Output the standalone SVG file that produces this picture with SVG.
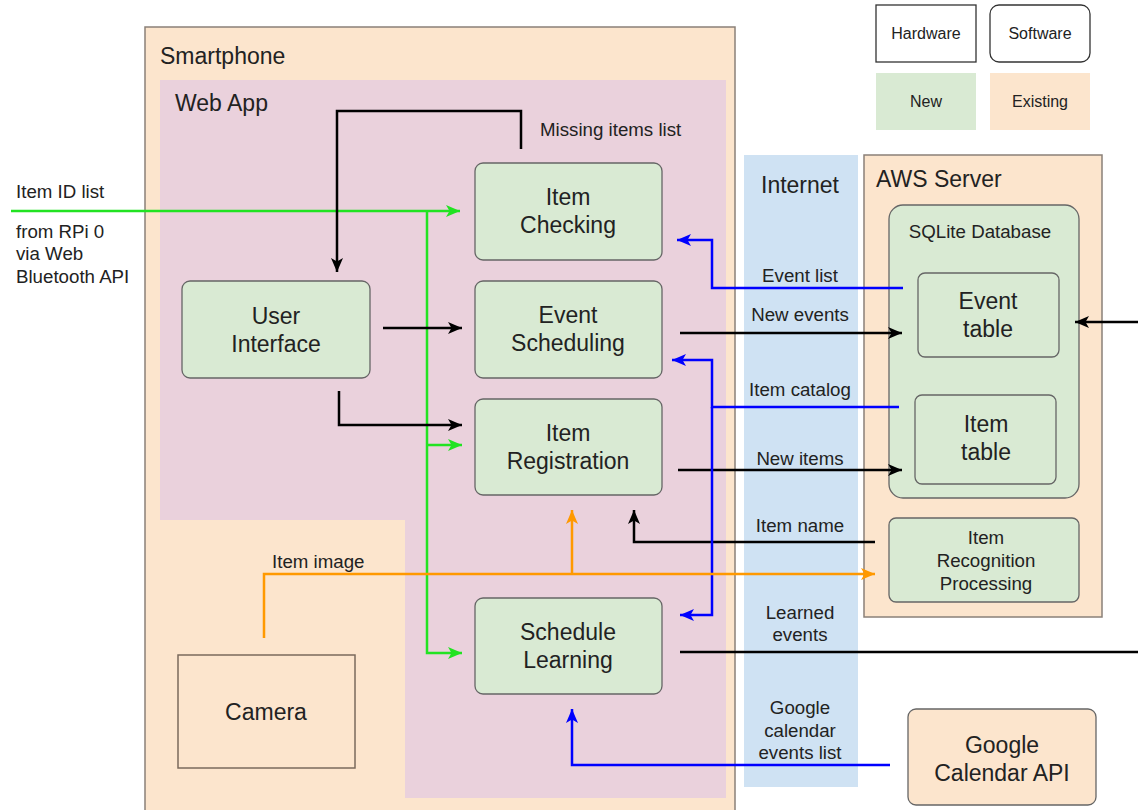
<svg xmlns="http://www.w3.org/2000/svg" width="1138" height="810" viewBox="0 0 1138 810">
  <style>
    text { font-family: "Liberation Sans", Arial, sans-serif; fill: #222; }
    .t23 { font-size: 23px; }
    .t18 { font-size: 18.7px; }
    .t16 { font-size: 16px; }
    .mid { text-anchor: middle; }
    .newbox { fill: #d9ead3; stroke: #666; stroke-width: 1.3; }
    .oldbox { fill: #fce5cd; stroke: #666; stroke-width: 1.3; }
    .container { fill: #fce5cd; stroke: #8a8078; stroke-width: 1.5; }
    .ln { fill: none; stroke-width: 2.5; }
    .blk { stroke: #000; }
    .blu { stroke: #0000ff; }
    .grn { stroke: #22e322; }
    .org { stroke: #ff9900; }
  </style>
  <defs>
    <marker id="ahBlack" markerUnits="userSpaceOnUse" markerWidth="14" markerHeight="12" refX="14" refY="6" orient="auto">
      <path d="M0,0 L14,6 L0,12 L3.5,6 z" fill="#000"/>
    </marker>
    <marker id="ahBlue" markerUnits="userSpaceOnUse" markerWidth="14" markerHeight="12" refX="14" refY="6" orient="auto">
      <path d="M0,0 L14,6 L0,12 L3.5,6 z" fill="#0000ff"/>
    </marker>
    <marker id="ahGreen" markerUnits="userSpaceOnUse" markerWidth="14" markerHeight="12" refX="14" refY="6" orient="auto">
      <path d="M0,0 L14,6 L0,12 L3.5,6 z" fill="#22e322"/>
    </marker>
    <marker id="ahOrange" markerUnits="userSpaceOnUse" markerWidth="14" markerHeight="12" refX="14" refY="6" orient="auto">
      <path d="M0,0 L14,6 L0,12 L3.5,6 z" fill="#ff9900"/>
    </marker>
  </defs>

  <rect width="1138" height="810" fill="#fff"/>

  <!-- Legend -->
  <g id="legend">
    <rect x="876" y="5" width="100" height="57" fill="#fff" stroke="#333" stroke-width="1.3"/>
    <text class="t16 mid" x="926" y="39">Hardware</text>
    <rect x="990" y="5" width="100" height="57" rx="9" fill="#fff" stroke="#333" stroke-width="1.3"/>
    <text class="t16 mid" x="1040" y="39">Software</text>
    <rect x="876" y="73" width="100" height="57" fill="#d9ead3"/>
    <text class="t16 mid" x="926" y="107">New</text>
    <rect x="990" y="73" width="100" height="57" fill="#fce5cd"/>
    <text class="t16 mid" x="1040" y="107">Existing</text>
  </g>

  <!-- Smartphone container -->
  <g id="smartphone">
    <rect class="container" x="145" y="27" width="590" height="800"/>
    <text class="t23" x="160" y="64">Smartphone</text>
  </g>

  <!-- Web App area -->
  <g id="webapp">
    <polygon points="160,80 726,80 726,798 405,798 405,520 160,520" fill="#ead1dc"/>
    <text class="t23" x="175" y="111">Web App</text>
  </g>

  <!-- Internet band -->
  <g id="internet">
    <rect x="744" y="155" width="114" height="632" fill="#cfe2f3"/>
    <text class="t23 mid" x="800" y="193">Internet</text>
  </g>

  <!-- AWS Server container -->
  <g id="aws-server">
    <rect class="container" x="864" y="155" width="238" height="462"/>
    <text class="t23" x="876" y="187">AWS Server</text>
  </g>

  <g id="sqlite-db">
    <rect class="newbox" x="889" y="205" width="190" height="293" rx="14"/>
    <text class="t18 mid" x="980" y="238">SQLite Database</text>
  </g>

  <g id="event-table">
    <rect class="newbox" x="918" y="273" width="141" height="84" rx="7"/>
    <text class="t23 mid" x="988" y="309">Event</text>
    <text class="t23 mid" x="988" y="337">table</text>
  </g>

  <g id="item-table">
    <rect class="newbox" x="915" y="395" width="141" height="89" rx="7"/>
    <text class="t23 mid" x="986" y="432">Item</text>
    <text class="t23 mid" x="986" y="460">table</text>
  </g>

  <g id="item-recognition">
    <rect class="newbox" x="889" y="518" width="190" height="84" rx="7"/>
    <text class="t18 mid" x="986" y="544">Item</text>
    <text class="t18 mid" x="986" y="567">Recognition</text>
    <text class="t18 mid" x="986" y="590">Processing</text>
  </g>

  <g id="google-calendar-api">
    <rect class="oldbox" x="908" y="709" width="188" height="96" rx="8"/>
    <text class="t23 mid" x="1002" y="753">Google</text>
    <text class="t23 mid" x="1002" y="781">Calendar API</text>
  </g>

  <g id="camera">
    <rect x="178" y="655" width="177" height="113" fill="#fce5cd" stroke="#7a6a5c" stroke-width="1.5"/>
    <text class="t23 mid" x="266" y="720">Camera</text>
  </g>

  <g id="user-interface">
    <rect class="newbox" x="182" y="281" width="188" height="97" rx="8"/>
    <text class="t23 mid" x="276" y="324">User</text>
    <text class="t23 mid" x="276" y="352">Interface</text>
  </g>

  <g id="item-checking">
    <rect class="newbox" x="475" y="163" width="187" height="97" rx="8"/>
    <text class="t23 mid" x="568" y="205">Item</text>
    <text class="t23 mid" x="568" y="233">Checking</text>
  </g>

  <g id="event-scheduling">
    <rect class="newbox" x="475" y="281" width="187" height="97" rx="8"/>
    <text class="t23 mid" x="568" y="323">Event</text>
    <text class="t23 mid" x="568" y="351">Scheduling</text>
  </g>

  <g id="item-registration">
    <rect class="newbox" x="475" y="399" width="187" height="96" rx="8"/>
    <text class="t23 mid" x="568" y="441">Item</text>
    <text class="t23 mid" x="568" y="469">Registration</text>
  </g>

  <g id="schedule-learning">
    <rect class="newbox" x="475" y="598" width="187" height="96" rx="8"/>
    <text class="t23 mid" x="568" y="640">Schedule</text>
    <text class="t23 mid" x="568" y="668">Learning</text>
  </g>

  <!-- Connectors -->
  <g id="connectors">
    <!-- Item ID list from Bluetooth -->
    <path class="ln grn" d="M11,211 H460" marker-end="url(#ahGreen)"/>
    <path class="ln grn" d="M427,211 V653 H462" marker-end="url(#ahGreen)"/>
    <path class="ln grn" d="M427,445 H462" marker-end="url(#ahGreen)"/>

    <!-- Missing items list -->
    <path class="ln blk" d="M521,149 V111 H337 V272" marker-end="url(#ahBlack)"/>
    <!-- User Interface outputs -->
    <path class="ln blk" d="M383,328 H462" marker-end="url(#ahBlack)"/>
    <path class="ln blk" d="M339,391 V425 H462" marker-end="url(#ahBlack)"/>

    <!-- To the database -->
    <path class="ln blk" d="M680,333 H902" marker-end="url(#ahBlack)"/>
    <path class="ln blk" d="M678,470 H902" marker-end="url(#ahBlack)"/>
    <path class="ln blk" d="M1138,322 H1075" marker-end="url(#ahBlack)"/>

    <!-- Item name back from recognition -->
    <path class="ln blk" d="M875,542 H634 V510" marker-end="url(#ahBlack)"/>

    <!-- Learned events -->
    <path class="ln blk" d="M680,652 H1138"/>

    <!-- Event list -->
    <path class="ln blu" d="M903,288 H712 V240 H677" marker-end="url(#ahBlue)"/>
    <!-- Item catalog -->
    <path class="ln blu" d="M899,407 H712 V360 H672" marker-end="url(#ahBlue)"/>
    <path class="ln blu" d="M712,407 V615 H680" marker-end="url(#ahBlue)"/>
    <!-- Google calendar events list -->
    <path class="ln blu" d="M890,765 H572 V709" marker-end="url(#ahBlue)"/>

    <!-- Item image -->
    <path class="ln org" d="M264,638 V574 H875" marker-end="url(#ahOrange)"/>
    <path class="ln org" d="M572,574 V510" marker-end="url(#ahOrange)"/>
  </g>

  <!-- Connector labels -->
  <g id="labels">
    <text class="t18" x="16" y="198">Item ID list</text>
    <text class="t18" x="16" y="238">from RPi 0</text>
    <text class="t18" x="16" y="260">via Web</text>
    <text class="t18" x="16" y="283">Bluetooth API</text>
    <text class="t18" x="540" y="136">Missing items list</text>
    <text class="t18 mid" x="800" y="282">Event list</text>
    <text class="t18 mid" x="800" y="321">New events</text>
    <text class="t18 mid" x="800" y="396">Item catalog</text>
    <text class="t18 mid" x="800" y="465">New items</text>
    <text class="t18 mid" x="800" y="532">Item name</text>
    <text class="t18" x="272" y="568">Item image</text>
    <text class="t18 mid" x="800" y="619">Learned</text>
    <text class="t18 mid" x="800" y="641">events</text>
    <text class="t18 mid" x="800" y="714">Google</text>
    <text class="t18 mid" x="800" y="737">calendar</text>
    <text class="t18 mid" x="800" y="759">events list</text>
  </g>
</svg>
